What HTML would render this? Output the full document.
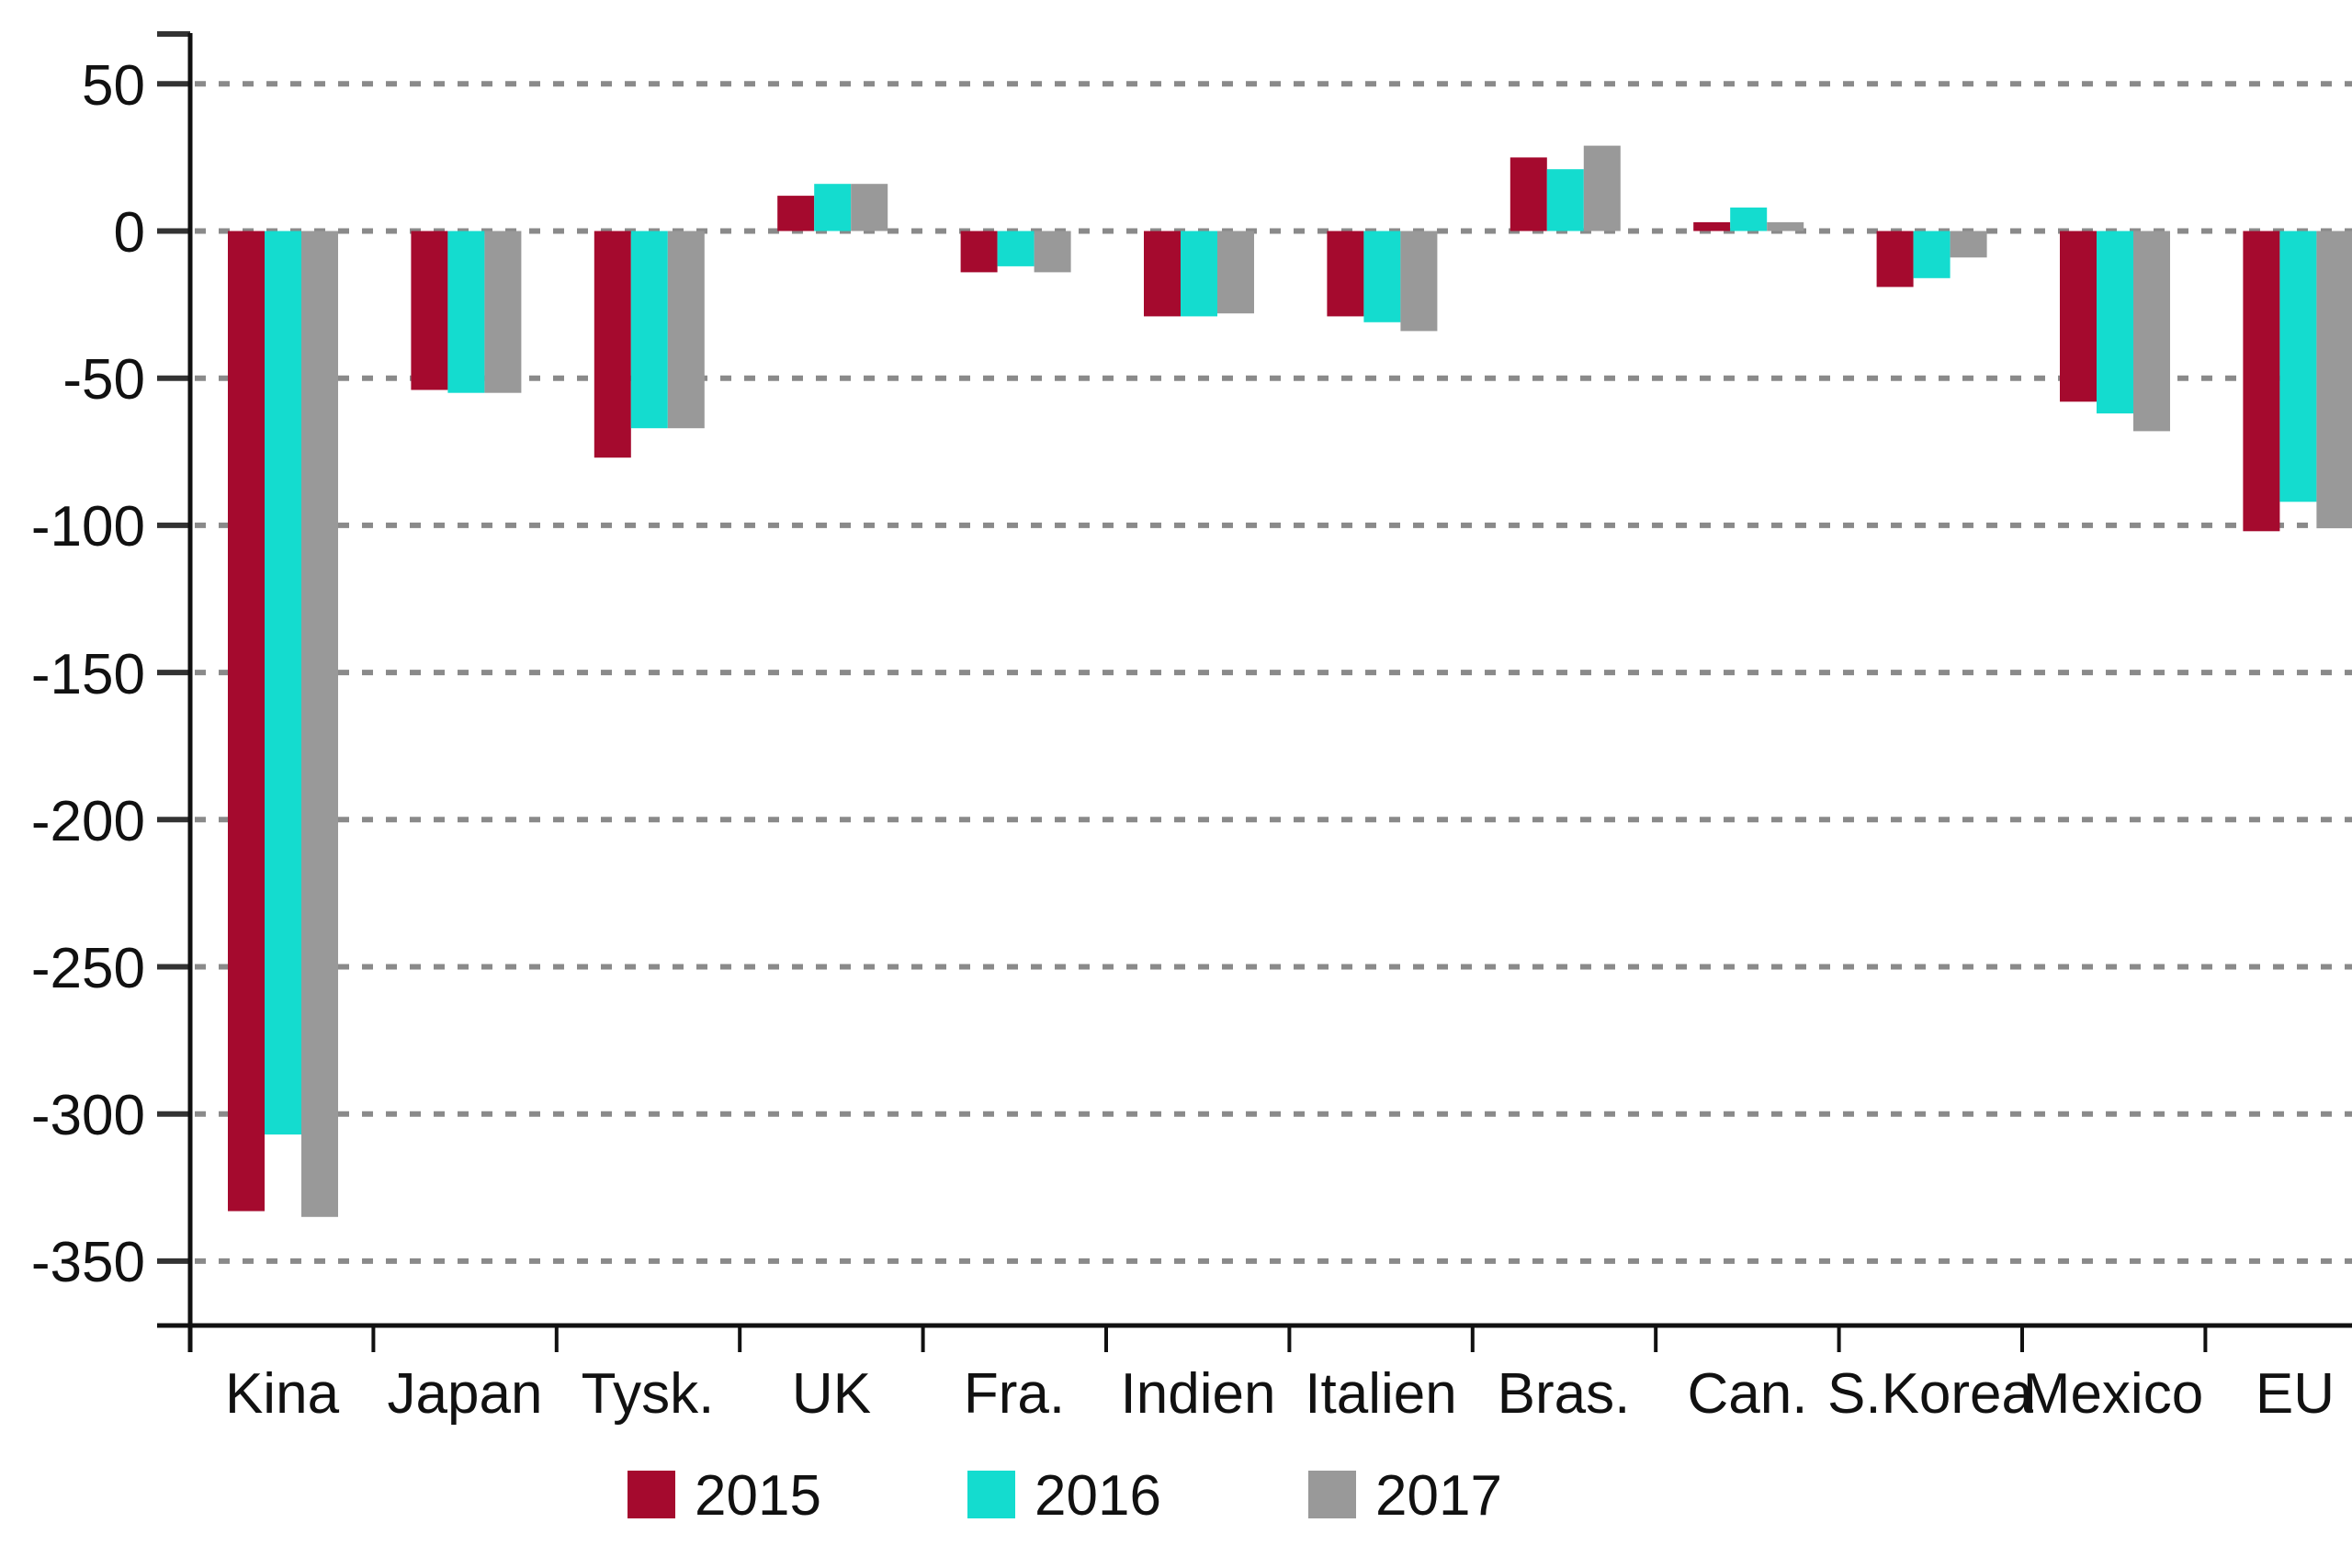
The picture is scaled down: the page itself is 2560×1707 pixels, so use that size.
<!DOCTYPE html>
<html><head><style>
html,body{margin:0;padding:0;background:#fff;}
svg{display:block;}
text{font-family:"Liberation Sans",Arial,sans-serif;fill:#111;}
</style></head><body>
<svg width="2560" height="1707" viewBox="0 0 2560 1707" xmlns="http://www.w3.org/2000/svg">
<rect width="2560" height="1707" fill="#fff"/>
<!-- gridlines -->
<g stroke="#8a8a8a" stroke-width="6" stroke-dasharray="12 14">
<line x1="212" x2="2560" y1="91.3" y2="91.3"/>
<line x1="212" x2="2560" y1="251.5" y2="251.5"/>
<line x1="212" x2="2560" y1="411.7" y2="411.7"/>
<line x1="212" x2="2560" y1="571.9" y2="571.9"/>
<line x1="212" x2="2560" y1="732.1" y2="732.1"/>
<line x1="212" x2="2560" y1="892.3" y2="892.3"/>
<line x1="212" x2="2560" y1="1052.5" y2="1052.5"/>
<line x1="212" x2="2560" y1="1212.7" y2="1212.7"/>
<line x1="212" x2="2560" y1="1372.9" y2="1372.9"/>
</g>
<!-- y ticks -->
<g stroke="#333" stroke-width="6">
<line x1="171" x2="207" y1="37" y2="37"/>
<line x1="171" x2="207" y1="91.3" y2="91.3"/>
<line x1="171" x2="207" y1="251.5" y2="251.5"/>
<line x1="171" x2="207" y1="411.7" y2="411.7"/>
<line x1="171" x2="207" y1="571.9" y2="571.9"/>
<line x1="171" x2="207" y1="732.1" y2="732.1"/>
<line x1="171" x2="207" y1="892.3" y2="892.3"/>
<line x1="171" x2="207" y1="1052.5" y2="1052.5"/>
<line x1="171" x2="207" y1="1212.7" y2="1212.7"/>
<line x1="171" x2="207" y1="1372.9" y2="1372.9"/>
</g>
<g font-size="62" text-anchor="end">
<text x="158" y="114">50</text>
<text x="158" y="274">0</text>
<text x="158" y="434">-50</text>
<text x="158" y="594">-100</text>
<text x="158" y="755">-150</text>
<text x="158" y="915">-200</text>
<text x="158" y="1075">-250</text>
<text x="158" y="1235">-300</text>
<text x="158" y="1395">-350</text>
</g>
<!-- bars -->
<g>
<!-- Kina -->
<rect x="248" y="251.5" width="40" height="1067" fill="#a50a2e"/>
<rect x="288" y="251.5" width="40" height="983.6" fill="#14dccf"/>
<rect x="328" y="251.5" width="40" height="1073.3" fill="#999"/>
<!-- Japan -->
<rect x="447.4" y="251.5" width="40" height="173" fill="#a50a2e"/>
<rect x="487.4" y="251.5" width="40" height="176.2" fill="#14dccf"/>
<rect x="527.4" y="251.5" width="40" height="176.2" fill="#999"/>
<!-- Tysk -->
<rect x="646.8" y="251.5" width="40" height="246.7" fill="#a50a2e"/>
<rect x="686.8" y="251.5" width="40" height="214.7" fill="#14dccf"/>
<rect x="726.8" y="251.5" width="40" height="214.7" fill="#999"/>
<!-- UK -->
<rect x="846.2" y="213.1" width="40" height="38.4" fill="#a50a2e"/>
<rect x="886.2" y="200.2" width="40" height="51.3" fill="#14dccf"/>
<rect x="926.2" y="200.2" width="40" height="51.3" fill="#999"/>
<!-- Fra -->
<rect x="1045.6" y="251.5" width="40" height="44.9" fill="#a50a2e"/>
<rect x="1085.6" y="251.5" width="40" height="38.4" fill="#14dccf"/>
<rect x="1125.6" y="251.5" width="40" height="44.9" fill="#999"/>
<!-- Indien -->
<rect x="1245" y="251.5" width="40" height="92.9" fill="#a50a2e"/>
<rect x="1285" y="251.5" width="40" height="92.9" fill="#14dccf"/>
<rect x="1325" y="251.5" width="40" height="89.7" fill="#999"/>
<!-- Italien -->
<rect x="1444.4" y="251.5" width="40" height="92.9" fill="#a50a2e"/>
<rect x="1484.4" y="251.5" width="40" height="99.3" fill="#14dccf"/>
<rect x="1524.4" y="251.5" width="40" height="108.9" fill="#999"/>
<!-- Bras -->
<rect x="1643.8" y="171.4" width="40" height="80.1" fill="#a50a2e"/>
<rect x="1683.8" y="184.2" width="40" height="67.3" fill="#14dccf"/>
<rect x="1723.8" y="158.6" width="40" height="92.9" fill="#999"/>
<!-- Can -->
<rect x="1843.2" y="241.9" width="40" height="9.6" fill="#a50a2e"/>
<rect x="1883.2" y="225.9" width="40" height="25.6" fill="#14dccf"/>
<rect x="1923.2" y="241.9" width="40" height="9.6" fill="#999"/>
<!-- S.Korea -->
<rect x="2042.6" y="251.5" width="40" height="60.9" fill="#a50a2e"/>
<rect x="2082.6" y="251.5" width="40" height="51.3" fill="#14dccf"/>
<rect x="2122.6" y="251.5" width="40" height="28.8" fill="#999"/>
<!-- Mexico -->
<rect x="2242" y="251.5" width="40" height="185.8" fill="#a50a2e"/>
<rect x="2282" y="251.5" width="40" height="198.6" fill="#14dccf"/>
<rect x="2322" y="251.5" width="40" height="217.9" fill="#999"/>
<!-- EU -->
<rect x="2441.4" y="251.5" width="40" height="326.8" fill="#a50a2e"/>
<rect x="2481.4" y="251.5" width="40" height="294.8" fill="#14dccf"/>
<rect x="2521.4" y="251.5" width="40" height="323.6" fill="#999"/>
</g>
<!-- axes -->
<line x1="207" x2="207" y1="36" y2="1472" stroke="#111" stroke-width="5"/>
<line x1="171" x2="2560" y1="1443" y2="1443" stroke="#111" stroke-width="5"/>
<g stroke="#111" stroke-width="4">
<line x1="406.4" x2="406.4" y1="1443" y2="1472"/>
<line x1="605.8" x2="605.8" y1="1443" y2="1472"/>
<line x1="805.2" x2="805.2" y1="1443" y2="1472"/>
<line x1="1004.6" x2="1004.6" y1="1443" y2="1472"/>
<line x1="1204" x2="1204" y1="1443" y2="1472"/>
<line x1="1403.4" x2="1403.4" y1="1443" y2="1472"/>
<line x1="1602.8" x2="1602.8" y1="1443" y2="1472"/>
<line x1="1802.2" x2="1802.2" y1="1443" y2="1472"/>
<line x1="2001.6" x2="2001.6" y1="1443" y2="1472"/>
<line x1="2201" x2="2201" y1="1443" y2="1472"/>
<line x1="2400.4" x2="2400.4" y1="1443" y2="1472"/>
</g>
<g font-size="62" text-anchor="middle">
<text x="307" y="1538">Kina</text>
<text x="506" y="1538">Japan</text>
<text x="705" y="1538">Tysk.</text>
<text x="905" y="1538">UK</text>
<text x="1104" y="1538">Fra.</text>
<text x="1304" y="1538">Indien</text>
<text x="1503" y="1538">Italien</text>
<text x="1702" y="1538">Bras.</text>
<text x="1902" y="1538">Can.</text>
<text x="2101" y="1538">S.Korea</text>
<text x="2300" y="1538">Mexico</text>
<text x="2498" y="1538">EU</text>
</g>
<!-- legend -->
<rect x="683" y="1601" width="52" height="52" fill="#a50a2e"/>
<text x="756" y="1649" font-size="62">2015</text>
<rect x="1053" y="1601" width="52" height="52" fill="#14dccf"/>
<text x="1126" y="1649" font-size="62">2016</text>
<rect x="1424" y="1601" width="52" height="52" fill="#999"/>
<text x="1497" y="1649" font-size="62">2017</text>
</svg>
</body></html>
